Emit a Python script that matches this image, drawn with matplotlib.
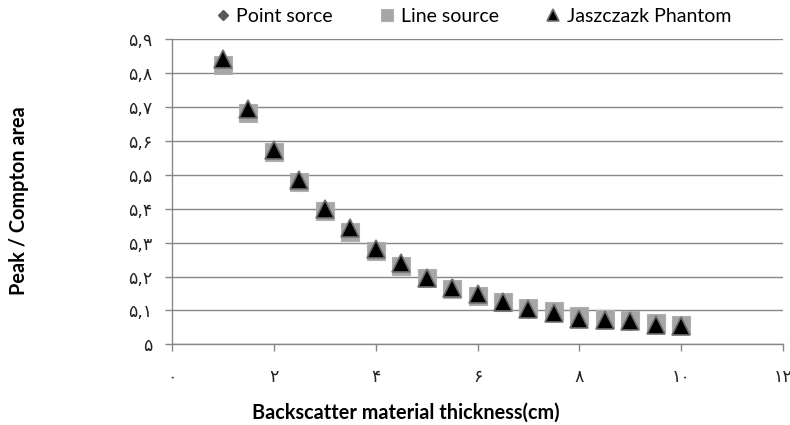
import matplotlib
matplotlib.use("Agg")
import matplotlib.pyplot as plt
from matplotlib.ticker import FixedLocator, FixedFormatter

thickness = [1, 1.5, 2, 2.5, 3, 3.5, 4, 4.5, 5, 5.5, 6, 6.5, 7, 7.5, 8, 8.5, 9, 9.5, 10]
point_source = [5.83, 5.685, 5.568, 5.479, 5.395, 5.334, 5.277, 5.234, 5.197,
                5.165, 5.145, 5.125, 5.105, 5.096, 5.081, 5.074, 5.070, 5.061, 5.057]
line_source = [5.825, 5.683, 5.566, 5.478, 5.394, 5.331, 5.276, 5.232, 5.197,
               5.164, 5.144, 5.125, 5.106, 5.097, 5.083, 5.076, 5.071, 5.062, 5.058]
jaszczak = [5.841, 5.693, 5.574, 5.484, 5.399, 5.342, 5.280, 5.239, 5.196,
            5.167, 5.148, 5.124, 5.103, 5.092, 5.076, 5.071, 5.068, 5.058, 5.054]

x_ticks = [0, 2, 4, 6, 8, 10, 12]
x_tick_labels = ["۰", "۲", "۴", "۶", "۸", "۱۰", "۱۲"]
y_ticks = [5.0, 5.1, 5.2, 5.3, 5.4, 5.5, 5.6, 5.7, 5.8, 5.9]
y_tick_labels = ["۵", "۵,۱", "۵,۲", "۵,۳", "۵,۴", "۵,۵", "۵,۶", "۵,۷", "۵,۸", "۵,۹"]

series_names = ["Point sorce", "Line source", "Jaszczazk Phantom"]

fig = plt.figure(figsize=(7.9, 4.25), dpi=100)
ax = fig.add_axes([172/790, 1 - 344.3/425, 611/790, 305/425])

grid_c = "#878787"
ax.plot(thickness, point_source, linestyle="none", marker="D", ms=9,
        color="#595959", zorder=3, label=series_names[0])
ax.plot(thickness, line_source, linestyle="none", marker="s", ms=13.5,
        markerfacecolor="#a6a6a6", markeredgecolor="#b0b0b0", mew=0.8,
        zorder=4, label=series_names[1])
ax.plot(thickness, jaszczak, linestyle="none", marker="^", ms=13.5,
        markerfacecolor="black", markeredgecolor="#707070", mew=1.2,
        zorder=5, label=series_names[2])

ax.set_xlim(0, 12)
ax.set_ylim(5.0, 5.9)
ax.xaxis.set_major_locator(FixedLocator(x_ticks))
ax.xaxis.set_major_formatter(FixedFormatter(x_tick_labels))
ax.yaxis.set_major_locator(FixedLocator(y_ticks))
ax.yaxis.set_major_formatter(FixedFormatter(y_tick_labels))

ax.grid(axis="y", color=grid_c, linewidth=1.0)
ax.set_axisbelow(True)
for s in ["top", "right"]:
    ax.spines[s].set_visible(False)
for s in ["left", "bottom"]:
    ax.spines[s].set_color(grid_c)
    ax.spines[s].set_linewidth(1.0)
ax.tick_params(axis="both", direction="out", length=5, color=grid_c, width=1.0)
ax.tick_params(axis="x", pad=12)
ax.tick_params(axis="y", pad=9)
for lab in ax.get_xticklabels() + ax.get_yticklabels():
    lab.set_fontfamily(["DejaVu Sans"])
    lab.set_fontsize(12.5)
    lab.set_color("#222222")

fig.text(0.514, 0.028, "Backscatter material thickness(cm)", ha="center", va="center",
         fontsize=14.3, fontweight="bold", family=["Lato", "DejaVu Sans"])
fig.text(0.024, 0.527, "Peak / Compton area", ha="center", va="center", rotation=90,
         fontsize=14.3, fontweight="bold", family=["Lato", "DejaVu Sans"])

leg = fig.legend(loc="center", bbox_to_anchor=(0.60, 0.962), ncol=3, frameon=False,
                 markerscale=0.6, handlelength=0.6, handletextpad=0.4, columnspacing=2.5,
                 prop={"family": ["Lato", "DejaVu Sans"], "size": 14})

fig.savefig("out.png", dpi=100)
